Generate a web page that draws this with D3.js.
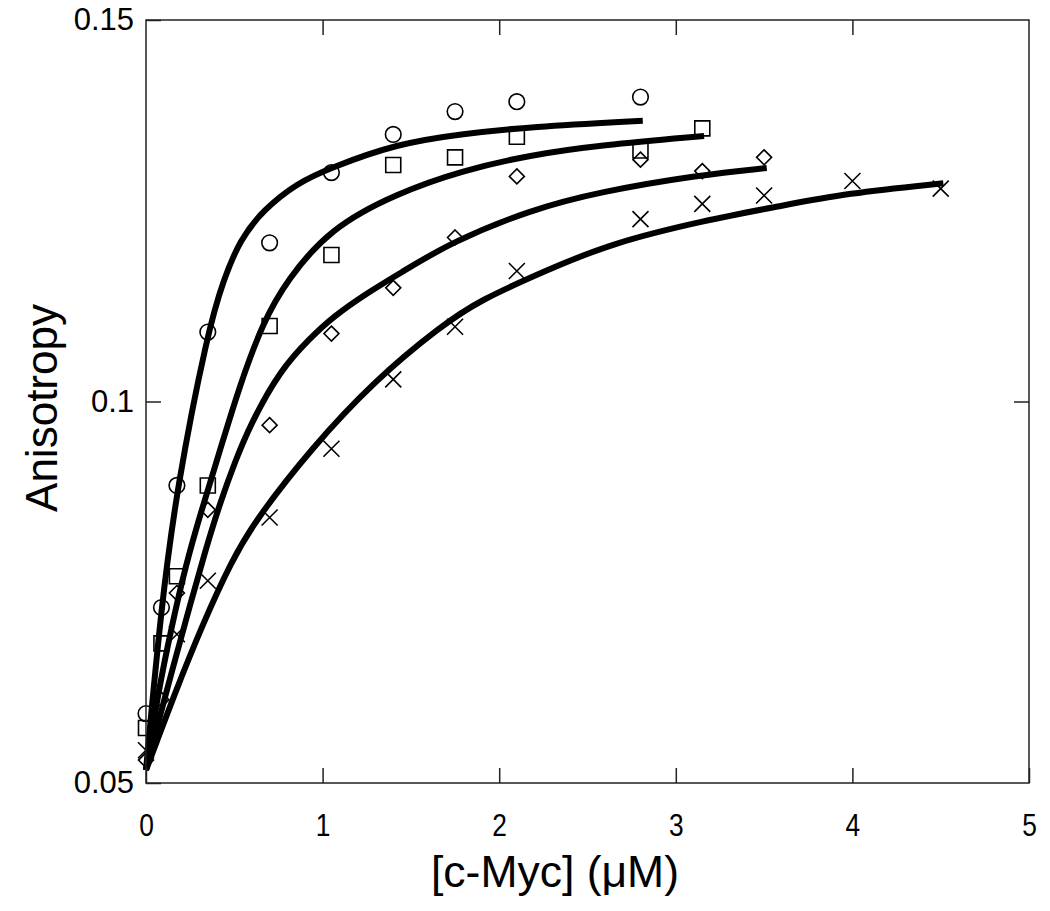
<!DOCTYPE html>
<html>
<head>
<meta charset="utf-8">
<script src="https://cdn.jsdelivr.net/npm/d3@7"></script>
<style>
  body { margin: 0; background: #fff; }
  text { font-family: "Liberation Sans", Arial, sans-serif; fill: #000; }
</style>
</head>
<body>
<div id="anisotropy-chart"></div>
<script>
// DATA

var xTicks = [0, 1, 2, 3, 4, 5];
var xTickLabels = ["0", "1", "2", "3", "4", "5"];
var yTicks = [0.05, 0.1, 0.15];
var yTickLabels = ["0.05", "0.1", "0.15"];

// measured points, one set per symbol
var circleX = [0, 0.0875, 0.175, 0.35, 0.7, 1.05, 1.4, 1.75, 2.1, 2.8];
var circleY = [0.0591, 0.0730, 0.0890, 0.1091, 0.1208, 0.1300, 0.1350, 0.1380, 0.1393, 0.1399];

var squareX = [0, 0.0875, 0.175, 0.35, 0.7, 1.05, 1.4, 1.75, 2.1, 2.8, 3.15];
var squareY = [0.0572, 0.0683, 0.0771, 0.0890, 0.1099, 0.1192, 0.1310, 0.1320, 0.1347, 0.1329, 0.1358];

var diamondX = [0, 0.0875, 0.175, 0.35, 0.7, 1.05, 1.4, 1.75, 2.1, 2.8, 3.15, 3.5];
var diamondY = [0.0530, 0.0609, 0.0749, 0.0858, 0.0969, 0.1089, 0.1149, 0.1215, 0.1295, 0.1317, 0.1302, 0.1320];

var crossX = [0, 0.175, 0.35, 0.7, 1.05, 1.4, 1.75, 2.1, 2.8, 3.15, 3.5, 4.0, 4.5];
var crossY = [0.0543, 0.0695, 0.0765, 0.0848, 0.0938, 0.1029, 0.1098, 0.1171, 0.1239, 0.1259, 0.1270, 0.1289, 0.1279];

// fitted curves
var fitCircleX = [0, 0.085, 0.176, 0.349, 0.438, 0.532, 0.664, 0.853, 1.042, 1.420, 1.797, 2.174, 2.813];
var fitCircleY = [0.0517, 0.0729, 0.0889, 0.1091, 0.1159, 0.1212, 0.1251, 0.1286, 0.1306, 0.1338, 0.1351, 0.1360, 0.1368];

var fitSquareX = [0, 0.068, 0.147, 0.226, 0.306, 0.419, 0.532, 0.663, 0.798, 1.042, 1.421, 1.795, 2.174, 2.571, 3.160];
var fitSquareY = [0.0517, 0.0618, 0.0707, 0.0786, 0.0851, 0.0936, 0.1022, 0.1104, 0.1159, 0.1227, 0.1273, 0.1303, 0.1323, 0.1336, 0.1348];

var fitDiamondX = [0, 0.079, 0.164, 0.249, 0.334, 0.419, 0.504, 0.589, 0.759, 0.929, 1.059, 1.251, 1.438, 1.721, 2.174, 2.571, 3.137, 3.515];
var fitDiamondY = [0.0517, 0.0588, 0.0661, 0.0733, 0.0803, 0.0867, 0.0921, 0.0969, 0.1041, 0.1083, 0.1111, 0.1142, 0.1168, 0.1208, 0.1251, 0.1275, 0.1297, 0.1306];

var fitCrossX = [0, 0.051, 0.164, 0.315, 0.485, 0.634, 0.934, 1.297, 1.665, 1.891, 2.269, 2.627, 3.176, 3.567, 3.968, 4.515];
var fitCrossY = [0.0517, 0.0548, 0.0618, 0.0705, 0.0792, 0.0849, 0.0938, 0.1028, 0.1098, 0.1133, 0.1172, 0.1207, 0.1238, 0.1255, 0.1273, 0.1286];

(function() {
  var margin = {top: 20, right: 21, bottom: 128, left: 146},
      width = 1050 - margin.left - margin.right,
      height = 911 - margin.top - margin.bottom;

  var svg = d3.select("#anisotropy-chart")
        .append("svg")
        .attr("width", width + margin.left + margin.right)
        .attr("height", height + margin.top + margin.bottom)
        .append("g")
        .attr("transform", "translate(" + margin.left + "," + margin.top + ")");

  // SCALES
  var xPositionScale = d3.scaleLinear().domain([0, 5]).range([0, width]);
  var yPositionScale = d3.scaleLinear().domain([0.05, 0.15]).range([height, 0]);

  function zip(xs, ys) {
    return xs.map(function(d, i) { return {x: d, y: ys[i]}; });
  }

  // symbol shapes
  var diamondType = {
    draw: function(context, size) {
      var r = Math.sqrt(size) / 2;
      context.moveTo(0, -r); context.lineTo(r, 0);
      context.lineTo(0, r); context.lineTo(-r, 0); context.closePath();
    }
  };
  var crossType = {
    draw: function(context, size) {
      var r = Math.sqrt(size) / 2;
      context.moveTo(-r, -r); context.lineTo(r, r);
      context.moveTo(-r, r); context.lineTo(r, -r);
    }
  };

  var series = [
    {points: zip(circleX, circleY), symbol: d3.symbol().type(d3.symbolCircle).size(Math.PI * 7.8 * 7.8)},
    {points: zip(squareX, squareY), symbol: d3.symbol().type(d3.symbolSquare).size(15 * 15)},
    {points: zip(diamondX, diamondY), symbol: d3.symbol().type(diamondType).size(15 * 15)},
    {points: zip(crossX, crossY), symbol: d3.symbol().type(crossType).size(16 * 16)}
  ];

  var fits = [
    zip(fitCircleX, fitCircleY),
    zip(fitSquareX, fitSquareY),
    zip(fitDiamondX, fitDiamondY),
    zip(fitCrossX, fitCrossY)
  ];

  // MARKERS (drawn first, the fit lines sit on top)
  series.forEach(function(s) {
    svg.append("g")
      .selectAll("path")
      .data(s.points)
      .enter().append("path")
      .attr("d", s.symbol)
      .attr("transform", function(d) {
        return "translate(" + xPositionScale(d.x) + "," + yPositionScale(d.y) + ")";
      })
      .attr("fill", "none")
      .attr("stroke", "#000")
      .attr("stroke-width", 1.6);
  });

  // FIT LINES - basis curve smooths out the tracing jitter
  var line = d3.line()
    .x(function(d) { return xPositionScale(d.x); })
    .y(function(d) { return yPositionScale(d.y); })
    .curve(d3.curveBasis);

  svg.selectAll(".fit")
    .data(fits)
    .enter().append("path")
    .attr("class", "fit")
    .attr("d", line)
    .attr("fill", "none")
    .attr("stroke", "#000")
    .attr("stroke-width", 6);

  // AXES
  var xAxis = d3.axisBottom(xPositionScale)
    .tickValues(xTicks)
    .tickFormat(function(d, i) { return xTickLabels[i]; })
    .tickSizeInner(-15)
    .tickSizeOuter(0)
    .tickPadding(31);

  var xAxisTop = d3.axisTop(xPositionScale)
    .tickValues(xTicks.slice(1, -1))
    .tickFormat("")
    .tickSizeInner(-15)
    .tickSizeOuter(0);

  var yAxis = d3.axisLeft(yPositionScale)
    .tickValues(yTicks)
    .tickFormat(function(d, i) { return yTickLabels[i]; })
    .tickSizeInner(-15)
    .tickSizeOuter(0)
    .tickPadding(12);

  var yAxisRight = d3.axisRight(yPositionScale)
    .tickValues(yTicks.slice(1, -1))
    .tickFormat("")
    .tickSizeInner(-15)
    .tickSizeOuter(0);

  svg.append("g")
    .attr("class", "axis x-axis")
    .attr("transform", "translate(0," + height + ")")
    .call(xAxis);

  svg.append("g")
    .attr("class", "axis x-axis-top")
    .call(xAxisTop);

  svg.append("g")
    .attr("class", "axis y-axis")
    .call(yAxis);

  svg.append("g")
    .attr("class", "axis y-axis-right")
    .attr("transform", "translate(" + width + ",0)")
    .call(yAxisRight);

  svg.selectAll(".axis .domain").remove();
  svg.selectAll(".axis line").attr("stroke", "#222").attr("stroke-width", 1.5);
  // x labels look a little condensed in the figure
  svg.selectAll(".x-axis text").attr("font-size", 31).attr("font-family", null)
    .attr("transform", "scale(0.85,1)");
  svg.selectAll(".y-axis text").attr("font-size", 31).attr("font-family", null);

  // frame
  svg.append("rect")
    .attr("width", width)
    .attr("height", height)
    .attr("fill", "none")
    .attr("stroke", "#222")
    .attr("stroke-width", 1.5);

  // AXIS TITLES
  svg.append("text")
    .attr("x", 555 - margin.left)
    .attr("y", height + 104)
    .attr("text-anchor", "middle")
    .attr("font-size", 44)
    .attr("textLength", 248)
    .attr("lengthAdjust", "spacingAndGlyphs")
    .text("[c-Myc] (\u03BCM)");

  svg.append("text")
    .attr("transform", "translate(" + (57 - margin.left) + "," + (408 - margin.top) + ") rotate(-90)")
    .attr("text-anchor", "middle")
    .attr("font-size", 44)
    .attr("textLength", 208)
    .attr("lengthAdjust", "spacingAndGlyphs")
    .text("Anisotropy");
})();
</script>
</body>
</html>
